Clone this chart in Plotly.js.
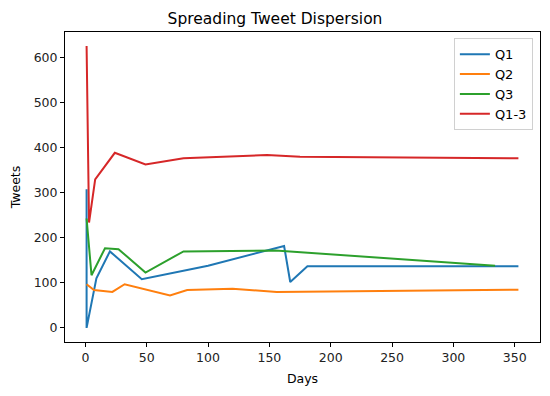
<!DOCTYPE html>
<html>
<head>
<meta charset="utf-8">
<script src="https://cdn.plot.ly/plotly-3.0.1.min.js"></script>
<style>
html,body{margin:0;padding:0;background:#fff;}
#chart{width:550px;height:396px;}
</style>
</head>
<body>
<div id="chart"></div>
<script>
// Data
const seriesNames = ["Q1", "Q2", "Q3", "Q1-3"];
const q1Days = [1, 1, 9, 20, 46, 100, 162, 167, 181, 353];
const q1Tweets = [308, 0, 110, 170, 108, 138, 182, 102, 137, 137];
const q2Days = [1, 7, 22, 32, 69, 83, 120, 156, 353];
const q2Tweets = [97, 84, 80, 97, 72, 84, 87, 80, 85];
const q3Days = [1, 5, 16, 27, 49, 80, 155, 334];
const q3Tweets = [243, 117, 177, 175, 123, 170, 172, 138];
const q13Days = [1, 3, 8, 24, 49, 80, 148, 175, 353];
const q13Tweets = [626, 234, 330, 389, 363, 377, 384, 380, 377];
const colors = ["#1f77b4", "#ff7f0e", "#2ca02c", "#d62728"];

const xs = [q1Days, q2Days, q3Days, q13Days];
const ys = [q1Tweets, q2Tweets, q3Tweets, q13Tweets];

const traces = xs.map((x, i) => ({
  x: x, y: ys[i], type: "scatter", mode: "lines", name: seriesNames[i],
  line: {color: colors[i], width: 2}
}));

function padRange(arrs) {
  const all = [].concat(...arrs);
  const mn = Math.min(...all), mx = Math.max(...all);
  const p = (mx - mn) * 0.05;
  return [mn - p, mx + p];
}

const axisCommon = {
  showgrid: false, zeroline: false, showline: true, mirror: true,
  linecolor: "#000", linewidth: 1, ticks: "outside", ticklen: 4,
  tickcolor: "#000", tickwidth: 1,
  tickfont: {family: "DejaVu Sans", size: 12.5, color: "#222"}
};

const layout = {
  width: 550, height: 396,
  margin: {l: 65, r: 10, t: 32, b: 54},
  paper_bgcolor: "#fff", plot_bgcolor: "#fff",
  title: {text: "Spreading Tweet Dispersion", x: 0.5, xanchor: "center", y: 0.952, yanchor: "middle",
          font: {family: "DejaVu Sans", size: 15.5, color: "#000"}},
  xaxis: Object.assign({}, axisCommon, {
    range: padRange(xs), tick0: 0, dtick: 50,
    title: {text: "Days", standoff: 10, font: {family: "DejaVu Sans", size: 12.5, color: "#000"}}
  }),
  yaxis: Object.assign({}, axisCommon, {
    range: padRange(ys), tick0: 0, dtick: 100,
    title: {text: "Tweets", standoff: 10, font: {family: "DejaVu Sans", size: 12.5, color: "#000"}}
  }),
  showlegend: true,
  legend: {
    x: 0.985, xanchor: "right", y: 0.98, yanchor: "top",
    bgcolor: "rgba(255,255,255,0.8)", bordercolor: "#d0d0d0", borderwidth: 1,
    font: {family: "DejaVu Sans", size: 13, color: "#000"},
    itemwidth: 30, tracegroupgap: 0
  }
};

Plotly.newPlot("chart", traces, layout, {displayModeBar: false, staticPlot: true});
</script>
</body>
</html>
